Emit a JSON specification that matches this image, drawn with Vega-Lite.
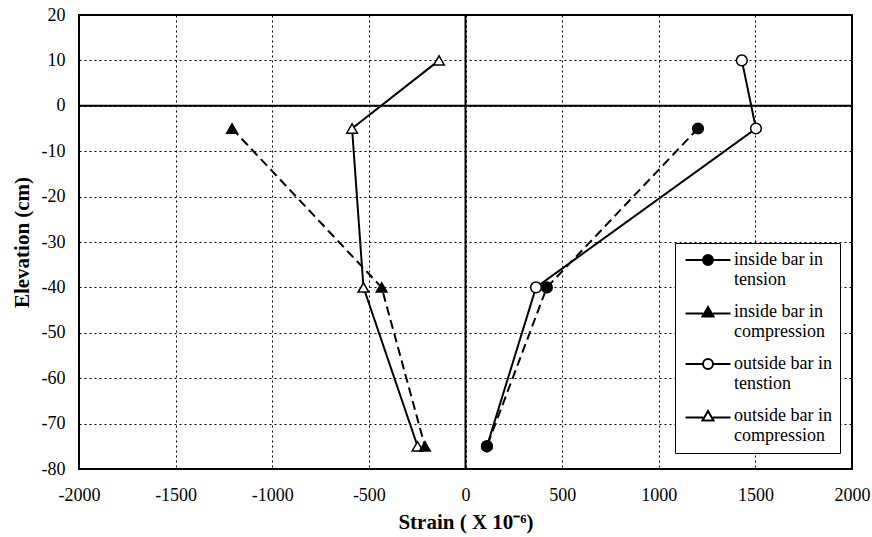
{
  "$schema": "https://vega.github.io/schema/vega-lite/v6.json",
  "width": 773,
  "height": 454,
  "autosize": "none",
  "padding": {"left": 79, "top": 15, "right": 20, "bottom": 68},
  "background": "white",
  "data": {
    "values": [
      {"series": "outside bar in tenstion", "inside": false, "i": 1, "strain": 1430, "elev": 10},
      {"series": "outside bar in tenstion", "inside": false, "i": 2, "strain": 1503, "elev": -5},
      {"series": "outside bar in tenstion", "inside": false, "i": 3, "strain": 365, "elev": -40},
      {"series": "outside bar in tenstion", "inside": false, "i": 4, "strain": 111, "elev": -75},
      {"series": "outside bar in compression", "inside": false, "i": 1, "strain": -137, "elev": 10},
      {"series": "outside bar in compression", "inside": false, "i": 2, "strain": -587, "elev": -5},
      {"series": "outside bar in compression", "inside": false, "i": 3, "strain": -528, "elev": -40},
      {"series": "outside bar in compression", "inside": false, "i": 4, "strain": -248, "elev": -75},
      {"series": "inside bar in tension", "inside": true, "i": 1, "strain": 1203, "elev": -5},
      {"series": "inside bar in tension", "inside": true, "i": 2, "strain": 421, "elev": -40},
      {"series": "inside bar in tension", "inside": true, "i": 3, "strain": 111, "elev": -75},
      {"series": "inside bar in compression", "inside": true, "i": 1, "strain": -1208, "elev": -5},
      {"series": "inside bar in compression", "inside": true, "i": 2, "strain": -434, "elev": -40},
      {"series": "inside bar in compression", "inside": true, "i": 3, "strain": -210, "elev": -75}
    ]
  },
  "config": {
    "view": {"stroke": "black", "strokeWidth": 2},
    "axis": {
      "ticks": false,
      "domain": false,
      "grid": true,
      "gridColor": "black",
      "gridDash": [2, 3],
      "gridWidth": 1,
      "gridOpacity": 1,
      "labelFlush": false,
      "labelOverlap": false,
      "labelFont": "Liberation Serif",
      "labelFontSize": 18,
      "labelColor": "black",
      "labelExpr": "'' + datum.value",
      "titleFont": "Liberation Serif",
      "titleFontSize": 21,
      "titleFontWeight": "bold",
      "titleColor": "black"
    }
  },
  "resolve": {"scale": {"shape": "independent"}, "legend": {"shape": "independent", "fill": "independent"}},
  "layer": [
    {
      "data": {"values": [{}]},
      "mark": {"type": "rule", "color": "black", "strokeWidth": 2},
      "encoding": {"x": {"datum": 0, "type": "quantitative"}}
    },
    {
      "data": {"values": [{}]},
      "mark": {"type": "rule", "color": "black", "strokeWidth": 2},
      "encoding": {"y": {"datum": 0, "type": "quantitative"}}
    },
    {
      "transform": [{"filter": "datum.inside"}],
      "mark": {"type": "line", "color": "black", "strokeWidth": 2, "strokeDash": [9, 5]},
      "encoding": {
        "x": {"field": "strain", "type": "quantitative"},
        "y": {"field": "elev", "type": "quantitative"},
        "detail": {"field": "series"},
        "order": {"field": "i"}
      }
    },
    {
      "transform": [{"filter": "!datum.inside"}],
      "mark": {"type": "line", "color": "black", "strokeWidth": 2},
      "encoding": {
        "x": {"field": "strain", "type": "quantitative"},
        "y": {"field": "elev", "type": "quantitative"},
        "detail": {"field": "series"},
        "order": {"field": "i"}
      }
    },
    {
      "mark": {"type": "point", "color": "black", "filled": false, "strokeWidth": 1.5, "opacity": 1, "size": 115},
      "encoding": {
        "x": {
          "field": "strain",
          "type": "quantitative",
          "scale": {"domain": [-2000, 2000], "nice": false},
          "axis": {"values": [-2000, -1500, -1000, -500, 0, 500, 1000, 1500, 2000], "labelPadding": 17, "titlePadding": 7, "title": "Strain ( X 10⁻⁶)"}
        },
        "y": {
          "field": "elev",
          "type": "quantitative",
          "scale": {"domain": [-80, 20], "nice": false},
          "axis": {"values": [-80, -70, -60, -50, -40, -30, -20, -10, 0, 10, 20], "labelPadding": 14, "titlePadding": 9, "title": "Elevation (cm)"}
        },
        "shape": {
          "field": "series",
          "type": "nominal",
          "scale": {
            "domain": ["inside bar in tension", "inside bar in compression", "outside bar in tenstion", "outside bar in compression"],
            "range": ["circle", "triangle-up", "circle", "triangle-up"]
          },
          "legend": null
        },
        "fill": {
          "field": "series",
          "type": "nominal",
          "scale": {
            "domain": ["inside bar in tension", "inside bar in compression", "outside bar in tenstion", "outside bar in compression"],
            "range": ["black", "black", "white", "white"]
          },
          "legend": null
        }
      }
    },
    {
      "transform": [{"filter": "false"}],
      "mark": {"type": "point", "color": "black", "filled": false, "strokeWidth": 2, "opacity": 1, "size": 100},
      "encoding": {
        "x": {"field": "strain", "type": "quantitative"},
        "y": {"field": "elev", "type": "quantitative"},
        "shape": {
          "field": "series",
          "type": "nominal",
          "scale": {
            "domain": ["inside bar in tension", "inside bar in compression", "outside bar in tenstion", "outside bar in compression"],
            "range": [
              "M-4.5,0H-1M1,0H4.5M1,0A1,1,0,1,1,-1,0A1,1,0,1,1,1,0Z",
              "M-4.5,0.3H-1M1,0.3H4.5M0,-1L1.1,0.9L-1.1,0.9Z",
              "M-4.5,0H-1M1,0H4.5M1,0A1,1,0,1,1,-1,0A1,1,0,1,1,1,0Z",
              "M-4.5,0.3H-1M1,0.3H4.5M0,-1L1.1,0.9L-1.1,0.9Z"
            ]
          },
          "legend": {
            "orient": "none",
            "legendX": 596,
            "legendY": 228,
            "title": null,
            "strokeColor": "black",
            "fillColor": "white",
            "padding": 8,
            "symbolOffset": 16,
            "labelOffset": 17,
            "symbolSize": 100,
            "symbolStrokeWidth": 2,
            "labelFont": "Liberation Serif",
            "labelFontSize": 18,
            "labelColor": "black",
            "labelLimit": 200,
            "rowPadding": 14,
            "labelExpr": "split(replace(datum.label, ' in ', ' in|'), '|')",
            "encode": {
              "legend": {"update": {"strokeWidth": {"value": 2}}},
              "labels": {"update": {"lineHeight": {"value": 21}}}
            }
          }
        },
        "fill": {
          "field": "series",
          "type": "nominal",
          "scale": {
            "domain": ["inside bar in tension", "inside bar in compression", "outside bar in tenstion", "outside bar in compression"],
            "range": ["black", "black", "white", "white"]
          }
        }
      }
    }
  ]
}
